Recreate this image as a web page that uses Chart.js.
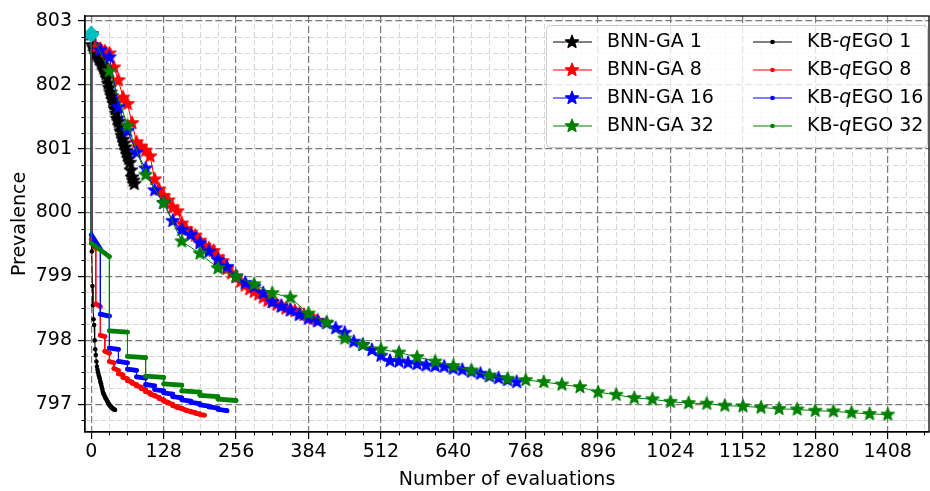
<!DOCTYPE html>
<html>
<head>
<meta charset="utf-8">
<script src="https://cdn.jsdelivr.net/npm/chart.js@4.4.0/dist/chart.umd.min.js"></script>
<style>
  html, body { margin: 0; padding: 0; background: #fff; }
  #wrap { width: 930px; height: 491px; }
</style>
</head>
<body>
<div id="wrap"><canvas id="chart" width="930" height="491"></canvas></div>
<script>
// ---- data ----
const startValue = 802.79;               // cyan diamond, initial best
const xTicks = [0, 128, 256, 384, 512, 640, 768, 896, 1024, 1152, 1280, 1408];
const yTicks = [797, 798, 799, 800, 801, 802, 803];

// BNN-GA runs (x = index * batch size)
const ga1Step = 2;
const ga1Values = [802.79, 802.62, 802.58, 802.55, 802.50, 802.47, 802.44, 802.40, 802.38, 802.33,
  802.30, 802.25, 802.21, 802.17, 802.10, 802.02, 801.95, 801.88, 801.82, 801.76,
  801.70, 801.62, 801.55, 801.47, 801.42, 801.35, 801.27, 801.20, 801.14, 801.08,
  801.02, 800.96, 800.90, 800.84, 800.78, 800.66, 800.55, 800.50, 800.45];

const ga8Step = 8;
const ga8Values = [802.79, 802.59, 802.56, 802.52, 802.49, 802.27, 802.07, 801.80, 801.70, 801.40,
  801.10, 801.03, 800.97, 800.88, 800.52, 800.36, 800.26, 800.19, 800.08, 800.02,
  799.83, 799.74, 799.68, 799.64, 799.56, 799.48, 799.44, 799.40, 799.30, 799.24,
  799.12, 799.05, 798.99, 798.92, 798.86, 798.80, 798.76, 798.72, 798.67, 798.62,
  798.60, 798.56, 798.54, 798.50, 798.48, 798.46, 798.42, 798.40, 798.37, 798.34, 798.31];

const ga16Step = 16;
const ga16Values = [802.79, 802.54, 802.43, 801.65, 801.28, 800.94, 800.69, 800.35, 800.15, 799.87,
  799.73, 799.65, 799.52, 799.39, 799.26, 799.15, 799.00, 798.90, 798.84, 798.74,
  798.60, 798.53, 798.47, 798.40, 798.34, 798.30, 798.27, 798.19, 798.12, 797.98,
  797.93, 797.85, 797.76, 797.68, 797.67, 797.65, 797.63, 797.61, 797.60, 797.59,
  797.56, 797.54, 797.51, 797.48, 797.44, 797.41, 797.38, 797.35];

const ga32Step = 32;
const ga32Values = [802.79, 802.21, 801.36, 800.59, 800.15, 799.55, 799.36, 799.13, 799.00, 798.88,
  798.74, 798.67, 798.42, 798.28, 798.03, 797.93, 797.86, 797.81, 797.74, 797.67,
  797.60, 797.53, 797.45, 797.40, 797.38, 797.35, 797.31, 797.27, 797.19, 797.15,
  797.10, 797.08, 797.04, 797.02, 797.01, 796.98, 796.97, 796.95, 796.93, 796.92,
  796.90, 796.89, 796.87, 796.85, 796.84];

// KB-qEGO runs
const kb1Values = [802.79, 799.39, 798.85, 798.55, 798.33, 798.24, 798.00, 797.86, 797.77, 797.67,
  797.59, 797.54, 797.50, 797.46, 797.43, 797.40, 797.36, 797.33, 797.29, 797.25,
  797.21, 797.18, 797.16, 797.14, 797.12, 797.10, 797.09, 797.07, 797.05, 797.04,
  797.02, 797.01, 796.99, 796.98, 796.97, 796.96, 796.95, 796.94, 796.93, 796.93,
  796.92, 796.92, 796.91];

// per batch: best value at start and end of the batch
const kb8Batch = 8;
const kb8Start = [799.58, 798.57, 798.08, 797.83, 797.67, 797.56, 797.48, 797.42, 797.37, 797.33,
  797.29, 797.25, 797.20, 797.16, 797.13, 797.09, 797.05, 797.02, 796.98, 796.95,
  796.93, 796.90, 796.88, 796.86, 796.84];
const kb8End = [799.44, 798.53, 798.06, 797.80, 797.65, 797.53, 797.46, 797.40, 797.35, 797.31,
  797.27, 797.23, 797.18, 797.14, 797.11, 797.07, 797.03, 797.00, 796.96, 796.94,
  796.91, 796.89, 796.87, 796.85, 796.83];

const kb16Batch = 16;
const kb16Start = [799.65, 798.41, 797.88, 797.67, 797.55, 797.43, 797.31, 797.23, 797.18, 797.12,
  797.07, 797.03, 796.99, 796.96, 796.92];
const kb16End = [799.43, 798.38, 797.86, 797.65, 797.53, 797.41, 797.29, 797.21, 797.16, 797.10,
  797.05, 797.01, 796.97, 796.94, 796.90];

const kb32Batch = 32;
const kb32Start = [799.52, 798.15, 797.75, 797.44, 797.32, 797.21, 797.14, 797.08];
const kb32End = [799.31, 798.13, 797.73, 797.42, 797.30, 797.19, 797.12, 797.06];

// ---- helpers ----
const FONT = "'DejaVu Sans', sans-serif";
const FS = 19;

function starImage(color, r) {
  const size = Math.ceil(r * 2 + 4);
  const cv = document.createElement('canvas');
  cv.width = cv.height = size;
  const g = cv.getContext('2d');
  const c = size / 2;
  g.beginPath();
  for (let i = 0; i < 10; i++) {
    const rad = i % 2 === 0 ? r : r * 0.42;
    const a = -Math.PI / 2 + i * Math.PI / 5;
    const px = c + rad * Math.cos(a), py = c + rad * Math.sin(a);
    if (i === 0) g.moveTo(px, py); else g.lineTo(px, py);
  }
  g.closePath();
  g.fillStyle = color;
  g.fill();
  g.lineWidth = 1.3;
  g.lineJoin = 'round';
  g.strokeStyle = color;
  g.stroke();
  return cv;
}

function gaData(step, values) {
  return values.map((v, i) => ({ x: i * step, y: v }));
}

function kbBatchData(batch, starts, ends) {
  const pts = [{ x: 0, y: startValue }];
  starts.forEach((s, i) => {
    pts.push({ x: i * batch, y: s });
    pts.push({ x: (i + 1) * batch, y: ends[i] });
  });
  return pts;
}

const COLORS = { k: '#000000', r: '#ff0000', b: '#0000ff', g: '#008000', c: '#00bfbf' };

function gaSet(label, color, data) {
  return {
    label, data, showLine: true,
    borderColor: color, backgroundColor: color, borderWidth: 1,
    pointStyle: starImage(color, 6.8), pointRadius: 6
  };
}

function kbSet(label, color, data, thickPlateaus) {
  const ds = {
    label, data, showLine: true,
    borderColor: color, backgroundColor: color, borderWidth: 1,
    pointStyle: 'circle', pointRadius: 2.3, pointBorderWidth: 0
  };
  if (thickPlateaus) {
    // dense evaluations inside one batch look like a thick bar
    ds.segment = {
      borderWidth: c => (c.p0.parsed.x !== c.p1.parsed.x ? 4.8 : 1),
      borderCapStyle: c => (c.p0.parsed.x !== c.p1.parsed.x ? 'round' : 'butt')
    };
  }
  return ds;
}

const datasets = [
  gaSet('BNN-GA 1', COLORS.k, gaData(ga1Step, ga1Values)),
  gaSet('BNN-GA 8', COLORS.r, gaData(ga8Step, ga8Values)),
  gaSet('BNN-GA 16', COLORS.b, gaData(ga16Step, ga16Values)),
  gaSet('BNN-GA 32', COLORS.g, gaData(ga32Step, ga32Values)),
  kbSet('KB-qEGO 1', COLORS.k, kb1Values.map((v, i) => ({ x: i, y: v })), false),
  kbSet('KB-qEGO 8', COLORS.r, kbBatchData(kb8Batch, kb8Start, kb8End), true),
  kbSet('KB-qEGO 16', COLORS.b, kbBatchData(kb16Batch, kb16Start, kb16End), true),
  kbSet('KB-qEGO 32', COLORS.g, kbBatchData(kb32Batch, kb32Start, kb32End), true),
  {
    label: 'start', data: [{ x: 0, y: startValue }], showLine: false,
    pointStyle: 'rectRot', pointRadius: 8.5, pointBorderWidth: 0,
    backgroundColor: COLORS.c, borderColor: COLORS.c
  }
];
// later datasets drawn on top (matplotlib order)
datasets.forEach((d, i) => { d.order = 50 - i; });

// ---- minor grid, minor ticks, frame, legend ----
const decorPlugin = {
  id: 'decor',
  beforeDraw(chart) {
    const { ctx, chartArea: a, scales: { x, y } } = chart;
    ctx.save();
    ctx.strokeStyle = '#d6d6d6';
    ctx.lineWidth = 1;
    ctx.setLineDash([5, 3]);
    for (let v = 32; v < x.max; v += 32) {
      if (v % 128 === 0) continue;
      const px = Math.round(x.getPixelForValue(v)) + 0.5;
      ctx.beginPath(); ctx.moveTo(px, a.top); ctx.lineTo(px, a.bottom); ctx.stroke();
    }
    for (let v = 796.75; v < y.max; v += 0.25) {
      if (Math.abs(v - Math.round(v)) < 1e-6) continue;
      const py = Math.round(y.getPixelForValue(v)) + 0.5;
      ctx.beginPath(); ctx.moveTo(a.left, py); ctx.lineTo(a.right, py); ctx.stroke();
    }
    ctx.restore();
  },
  afterDatasetsDraw(chart) {
    const { ctx, chartArea: a, scales: { x, y } } = chart;
    ctx.save();
    ctx.strokeStyle = '#000';
    ctx.lineWidth = 1;
    for (let v = 32; v < x.max; v += 32) {
      if (v % 128 === 0) continue;
      const px = Math.round(x.getPixelForValue(v)) + 0.5;
      ctx.beginPath(); ctx.moveTo(px, a.bottom); ctx.lineTo(px, a.bottom + 3.5); ctx.stroke();
    }
    for (let v = 796.75; v < y.max; v += 0.25) {
      if (Math.abs(v - Math.round(v)) < 1e-6) continue;
      const py = Math.round(y.getPixelForValue(v)) + 0.5;
      ctx.beginPath(); ctx.moveTo(a.left, py); ctx.lineTo(a.left - 3.5, py); ctx.stroke();
    }
    ctx.lineWidth = 1.3;
    ctx.strokeRect(a.left, a.top, a.right - a.left, a.bottom - a.top);
    ctx.restore();
  },
  afterDraw(chart) {
    const ctx = chart.ctx;
    ctx.save();
    // legend frame
    const bx = 546, by = 25, bw = 381, bh = 122, r = 4;
    ctx.beginPath();
    ctx.roundRect(bx + 0.5, by + 0.5, bw, bh, r);
    ctx.fillStyle = 'rgba(255,255,255,0.8)';
    ctx.fill();
    ctx.strokeStyle = '#cccccc';
    ctx.lineWidth = 1;
    ctx.stroke();

    const rows = [42, 70, 98, 126];
    const ga = datasets.slice(0, 4), kb = datasets.slice(4, 8);
    ctx.textBaseline = 'middle';
    ctx.fillStyle = '#000';
    ga.forEach((d, i) => {
      const yy = rows[i];
      ctx.strokeStyle = d.borderColor; ctx.lineWidth = 1.2;
      ctx.beginPath(); ctx.moveTo(553, yy); ctx.lineTo(592, yy); ctx.stroke();
      const img = d.pointStyle;
      ctx.drawImage(img, 572 - img.width / 2, yy - img.height / 2);
      ctx.fillStyle = '#000';
      ctx.font = `${FS}px ${FONT}`;
      ctx.fillText(d.label, 607, yy);
    });
    kb.forEach((d, i) => {
      const yy = rows[i];
      ctx.strokeStyle = d.borderColor; ctx.lineWidth = 1.2;
      ctx.beginPath(); ctx.moveTo(753, yy); ctx.lineTo(792, yy); ctx.stroke();
      ctx.fillStyle = d.borderColor;
      ctx.beginPath(); ctx.arc(772.5, yy, 2.3, 0, Math.PI * 2); ctx.fill();
      ctx.fillStyle = '#000';
      let tx = 807;
      const parts = [['KB-', ''], ['q', 'italic '], [d.label.replace('KB-qEGO', 'EGO'), '']];
      parts.forEach(([t, st]) => {
        ctx.font = `${st}${FS}px ${FONT}`;
        ctx.fillText(t, tx, yy);
        tx += ctx.measureText(t).width;
      });
    });
    ctx.restore();
  }
};

const majorGrid = { color: '#7a7a7a', lineWidth: 1.2, tickLength: 7,
                    tickColor: '#000', tickWidth: 1.2, tickBorderDash: [] };

new Chart(document.getElementById('chart'), {
  type: 'scatter',
  data: { datasets },
  options: {
    responsive: false,
    animation: false,
    devicePixelRatio: 1,
    layout: { autoPadding: false, padding: { top: 16, right: 1, left: 0, bottom: 0 } },
    plugins: { legend: { display: false }, tooltip: { enabled: false } },
    scales: {
      x: {
        type: 'linear', min: -11.1, max: 1481,
        afterBuildTicks: s => { s.ticks = xTicks.map(v => ({ value: v })); },
        afterFit: s => { s.height = 59; s.paddingLeft = 0; s.paddingRight = 0; },
        grid: majorGrid,
        border: { display: true, color: '#000', width: 1.3, dash: [7, 3] },
        ticks: { color: '#000', font: { family: FONT, size: FS }, padding: 2, maxRotation: 0,
                 callback: v => String(v) },
        title: { display: true, text: 'Number of evaluations', color: '#000',
                 font: { family: FONT, size: FS }, padding: { top: 0, bottom: 0 } }
      },
      y: {
        type: 'linear', min: 796.567, max: 803.074,
        afterBuildTicks: s => { s.ticks = yTicks.map(v => ({ value: v })); },
        afterFit: s => { s.width = 85; s.paddingTop = 0; s.paddingBottom = 0; },
        grid: majorGrid,
        border: { display: true, color: '#000', width: 1.3, dash: [7, 3] },
        ticks: { color: '#000', font: { family: FONT, size: FS }, padding: 6,
                 callback: v => String(v) },
        title: { display: true, text: 'Prevalence', color: '#000',
                 font: { family: FONT, size: FS }, padding: { top: 9, bottom: 0 } }
      }
    }
  },
  plugins: [decorPlugin]
});
</script>
</body>
</html>
